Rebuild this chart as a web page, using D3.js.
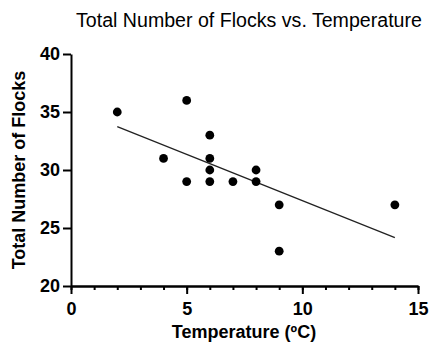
<!DOCTYPE html>
<html>
<head>
<meta charset="utf-8">
<script src="https://cdn.jsdelivr.net/npm/d3@7"></script>
<style>
  body { margin: 0; background: #fff; }
  svg { display: block; }
  .axis text { font-family: "Liberation Sans", Arial, sans-serif; font-weight: bold; font-size: 18px; fill: #000; }
  .axis path, .axis line { stroke: #000; stroke-width: 2; }
</style>
</head>
<body>
<div id="chart"></div>
<script>
// temperature (ºC) and flock counts
const temperature = [2, 4, 5, 5, 6, 6, 6, 6, 7, 8, 8, 9, 9, 14];
const flocks = [35, 31, 36, 29, 33, 31, 30, 29, 29, 30, 29, 27, 23, 27];
const xTicks = [0, 5, 10, 15];
const yTicks = [20, 25, 30, 35, 40];

const width = 429, height = 350;

const svg = d3.select('#chart')
  .append('svg')
  .attr('width', width)
  .attr('height', height);

const x = d3.scaleLinear().domain([0, 15]).range([71, 418]);
const y = d3.scaleLinear().domain([20, 40]).range([286, 54]);

// minor ticks on x, every 1
svg.append('g')
  .attr('class', 'axis')
  .attr('transform', `translate(0, ${y(20)})`)
  .call(d3.axisBottom(x).tickValues(d3.range(0, 16)).tickSize(4).tickSizeOuter(0).tickFormat(''));

svg.append('g')
  .attr('class', 'axis')
  .attr('transform', `translate(0, ${y(20)})`)
  .call(d3.axisBottom(x).tickValues(xTicks).tickSize(8).tickSizeOuter(0).tickPadding(8).tickFormat(d3.format('d')));

svg.append('g')
  .attr('class', 'axis')
  .attr('transform', `translate(${x(0)}, 0)`)
  .call(d3.axisLeft(y).tickValues(yTicks).tickSize(8).tickSizeOuter(0).tickPadding(3).tickFormat(d3.format('d')));

// least squares fit
const mx = d3.mean(temperature), my = d3.mean(flocks);
const sxy = d3.sum(temperature, (t, i) => (t - mx) * (flocks[i] - my));
const sxx = d3.sum(temperature, t => (t - mx) * (t - mx));
const slope = sxy / sxx, intercept = my - slope * mx;
const xr = d3.extent(temperature);

svg.append('line')
  .attr('x1', x(xr[0])).attr('y1', y(intercept + slope * xr[0]))
  .attr('x2', x(xr[1])).attr('y2', y(intercept + slope * xr[1]))
  .attr('stroke', '#222')
  .attr('stroke-width', 1.3);

svg.selectAll('circle')
  .data(temperature)
  .enter()
  .append('circle')
  .attr('cx', d => x(d))
  .attr('cy', (d, i) => y(flocks[i]))
  .attr('r', 4.4)
  .attr('fill', '#000');

svg.append('text')
  .attr('x', 76)
  .attr('y', 26.5)
  .style('font-family', '"Liberation Sans", Arial, sans-serif')
  .style('font-size', '19.6px')
  .text('Total Number of Flocks vs. Temperature');

svg.append('text')
  .attr('x', 244)
  .attr('y', 338)
  .attr('text-anchor', 'middle')
  .style('font-family', '"Liberation Sans", Arial, sans-serif')
  .style('font-weight', 'bold')
  .style('font-size', '18px')
  .text('Temperature (ºC)');

svg.append('text')
  .attr('transform', 'translate(25, 170) rotate(-90)')
  .attr('text-anchor', 'middle')
  .style('font-family', '"Liberation Sans", Arial, sans-serif')
  .style('font-weight', 'bold')
  .style('font-size', '18px')
  .text('Total Number of Flocks');
</script>
</body>
</html>
